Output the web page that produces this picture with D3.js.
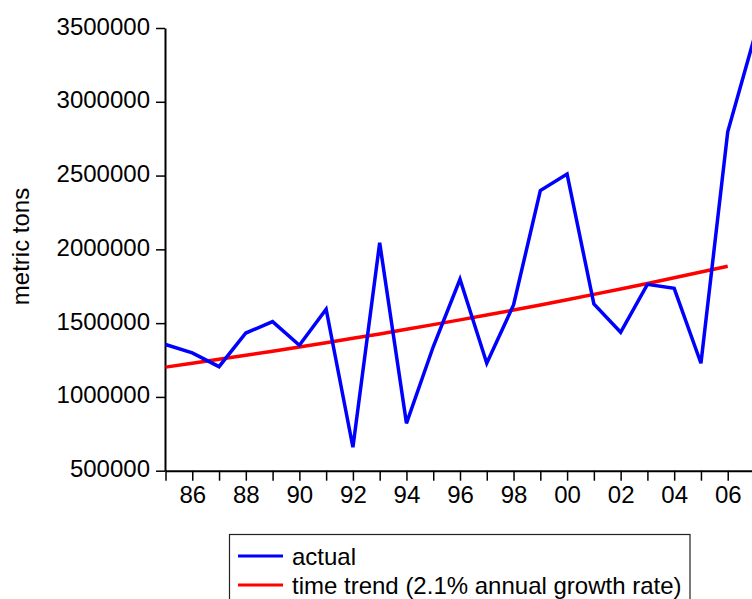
<!DOCTYPE html>
<html>
<head>
<meta charset="utf-8">
<script src="https://cdn.jsdelivr.net/npm/d3@7"></script>
<style>
  html, body { margin: 0; padding: 0; background: #fff; }
  svg { display: block; }
  text { font-family: "Liberation Sans", Arial, Helvetica, sans-serif; fill: #000; }
</style>
</head>
<body>
<svg id="chart" width="752" height="599"></svg>
<script>
// ---- data ----
const years = [1985,1986,1987,1988,1989,1990,1991,1992,1993,1994,1995,1996,1997,1998,1999,2000,2001,2002,2003,2004,2005,2006,2007];
const actual = [1355000,1298000,1205000,1433000,1510000,1350000,1594000,659000,2045000,821000,1340000,1797000,1228000,1623000,2398000,2510000,1630000,1438000,1763000,1736000,1228000,2797000,3440000];
const trendYears = [1985,1986,1987,1988,1989,1990,1991,1992,1993,1994,1995,1996,1997,1998,1999,2000,2001,2002,2003,2004,2005,2006];
const trend = [1202000,1228000,1255000,1282000,1310000,1338000,1367000,1397000,1427000,1458000,1490000,1522000,1555000,1589000,1623000,1659000,1695000,1731000,1769000,1807000,1846000,1886000];
const yTicks = [500000,1000000,1500000,2000000,2500000,3000000,3500000];
const legendLabels = ["actual", "time trend (2.1% annual growth rate)"];
const yTitle = "metric tons";

const svg = d3.select("#chart");
const FS = 24;

const x = d3.scaleLinear().domain([1985, 2007]).range([165.5, 754.5]);
const y = d3.scaleLinear().domain([500000, 3500000]).range([470.7, 28]);

// y axis
const gy = svg.append("g").attr("transform", "translate(165,0)")
  .call(d3.axisLeft(y).tickValues(yTicks).tickSize(9).tickSizeOuter(0).tickPadding(6).tickFormat(d3.format("d")));
gy.select(".domain").attr("stroke", "#000").attr("stroke-width", 2);
gy.selectAll(".tick line").attr("stroke", "#000").attr("stroke-width", 1.5);
gy.selectAll(".tick text").attr("font-size", FS).attr("dy", null).attr("y", 6)
  .style("font-family", "'Liberation Sans', Arial, sans-serif").attr("fill", "#000");

// x axis
const gx = svg.append("g").attr("transform", "translate(0,470.7)")
  .call(d3.axisBottom(x).tickValues(years).tickSize(10).tickSizeOuter(0).tickPadding(6)
    .tickFormat(d => (d % 2 === 0 && d !== 2007) ? String(d).slice(2) : ""));
gx.select(".domain").attr("stroke", "#000").attr("stroke-width", 2);
gx.selectAll(".tick line").attr("stroke", "#000").attr("stroke-width", 1.5);
gx.selectAll(".tick text").attr("font-size", FS).attr("dy", null).attr("y", 32)
  .style("font-family", "'Liberation Sans', Arial, sans-serif").attr("fill", "#000");

// y title
svg.append("text")
  .attr("transform", "translate(28.5,246.5) rotate(-90)")
  .attr("text-anchor", "middle")
  .attr("font-size", FS)
  .text(yTitle);

// lines
const line = d3.line().x(d => x(d[0])).y(d => y(d[1]));
svg.append("path")
  .datum(trendYears.map((yr, i) => [yr, trend[i]]))
  .attr("fill", "none").attr("stroke", "#ff0000").attr("stroke-width", 3.5)
  .attr("d", line);
svg.append("path")
  .datum(years.map((yr, i) => [yr, actual[i]]))
  .attr("fill", "none").attr("stroke", "#0000ff").attr("stroke-width", 3.5)
  .attr("stroke-linejoin", "miter")
  .attr("d", line);

// legend
const lg = svg.append("g");
lg.append("rect").attr("x", 229.5).attr("y", 534.5).attr("width", 460.5).attr("height", 70)
  .attr("fill", "#fff").attr("stroke", "#222").attr("stroke-width", 1.2);
const colors = ["#0000ff", "#ff0000"];
legendLabels.forEach((lab, i) => {
  const cy = 556 + i * 29;
  lg.append("line").attr("x1", 238).attr("x2", 283).attr("y1", cy).attr("y2", cy)
    .attr("stroke", colors[i]).attr("stroke-width", 3);
  lg.append("text").attr("x", 292).attr("y", cy + 9).attr("font-size", FS).text(lab);
});
</script>
</body>
</html>
